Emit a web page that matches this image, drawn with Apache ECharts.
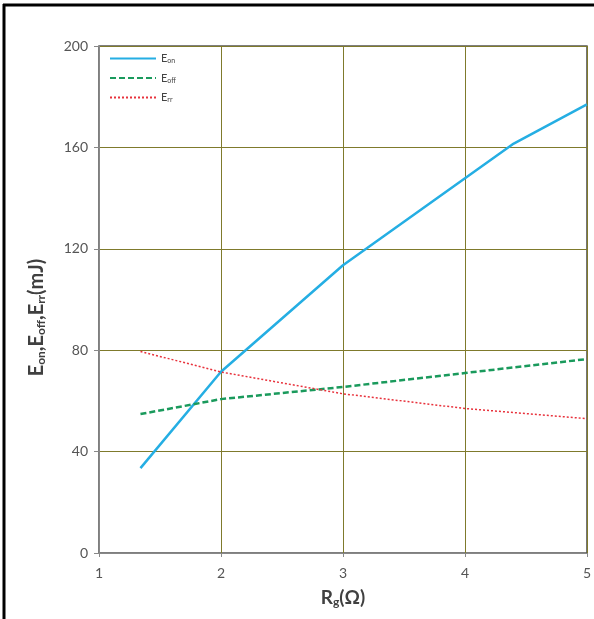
<!DOCTYPE html>
<html><head><meta charset="utf-8">
<script src="https://cdn.jsdelivr.net/npm/echarts@6/dist/echarts.min.js"></script>
<style>html,body{margin:0;padding:0;background:#fff}#c{width:594px;height:619px}</style>
</head><body><div id="c"></div>
<script>
const rgEon = [1.34, 2, 3, 4.4, 5];
const eon = [33.5, 71.5, 113.5, 161.5, 177];
const rgEoff = [1.34, 2, 3, 4, 5];
const eoff = [54.8, 60.7, 65.5, 71, 76.5];
const rgErr = [1.34, 2, 3, 4, 5];
const err = [79.5, 71.4, 62.8, 57, 53];
const yTicks = [0, 40, 80, 120, 160, 200];
const xTicks = [1, 2, 3, 4, 5];
const seriesNames = ['Eon', 'Eoff', 'Err'];

const pair = (xs, ys) => xs.map((x, i) => [x, ys[i]]);
const font = "Lato, 'Open Sans', 'DejaVu Sans', sans-serif";
const gridCol = '#7f7a2c';

const chart = echarts.init(document.getElementById('c'));
chart.setOption({
  animation: false,
  backgroundColor: '#fff',
  grid: {left: 99, right: 5, top: 46, bottom: 66, show: true, borderColor: '#555', borderWidth: 1.5, backgroundColor: 'transparent'},
  xAxis: {
    type: 'value', min: xTicks[0], max: xTicks[xTicks.length - 1], interval: 1,
    axisLine: {show: true, onZero: false, lineStyle: {color: '#888', width: 1}},
    axisTick: {show: true, length: 4, lineStyle: {color: '#888'}},
    splitLine: {show: true, lineStyle: {color: gridCol, width: 1}},
    axisLabel: {margin: 13, fontSize: 14, color: '#555', fontFamily: font},
    name: '{b|R}{s|g}{b|(Ω)}', nameLocation: 'middle', nameGap: 35,
    nameTextStyle: {rich: {
      b: {fontSize: 19, fontWeight: 'bold', color: '#404040', fontFamily: font},
      s: {fontSize: 12, fontWeight: 'bold', color: '#404040', fontFamily: font, padding: [8, 0, 0, 0]}
    }}
  },
  yAxis: {
    type: 'value', min: yTicks[0], max: yTicks[yTicks.length - 1], interval: 40,
    axisLine: {show: true, lineStyle: {color: '#888', width: 1}},
    axisTick: {show: true, length: 5, lineStyle: {color: '#888'}},
    splitLine: {show: true, lineStyle: {color: gridCol, width: 1}},
    axisLabel: {margin: 11, fontSize: 14, color: '#555', fontFamily: font},
    name: '{b|E}{s|on}{b|,E}{s|off}{b|,E}{s|rr}{b|(mJ)}', nameLocation: 'middle', nameGap: 52,
    nameTextStyle: {padding: [0, 36, 0, 0], rich: {
      b: {fontSize: 20, fontWeight: 'bold', color: '#404040', fontFamily: font},
      s: {fontSize: 12, fontWeight: 'bold', color: '#404040', fontFamily: font, padding: [9, 0, 0, 0]}
    }}
  },
  legend: {
    orient: 'vertical', left: 104, top: 48, itemWidth: 46, itemHeight: 10, itemGap: 8,
    data: seriesNames,
    itemStyle: {opacity: 0},
    formatter: n => '{b|E}{s|' + n.slice(1) + '}',
    textStyle: {rich: {
      b: {fontSize: 11, color: '#444', fontFamily: font},
      s: {fontSize: 7, color: '#444', fontFamily: font, padding: [5, 0, 0, 0]}
    }}
  },
  series: [
    {name: seriesNames[0], type: 'line', data: pair(rgEon, eon), showSymbol: false, symbol: 'none',
     lineStyle: {color: '#25aee3', width: 2.5}, itemStyle: {color: '#25aee3'}},
    {name: seriesNames[1], type: 'line', data: pair(rgEoff, eoff), showSymbol: false, symbol: 'none',
     lineStyle: {color: '#1a9a5c', width: 2.5, type: [6, 3]}, itemStyle: {color: '#1a9a5c'}},
    {name: seriesNames[2], type: 'line', data: pair(rgErr, err), showSymbol: false, symbol: 'none',
     lineStyle: {color: '#e8323c', width: 1.5, type: [2, 2]}, itemStyle: {color: '#e8323c'}}
  ],
  graphic: [
    {type: 'line', shape: {x1: 3, y1: 5, x2: 594, y2: 5}, style: {stroke: '#000', lineWidth: 3}},
    {type: 'line', shape: {x1: 4, y1: 4, x2: 4, y2: 619}, style: {stroke: '#000', lineWidth: 3}}
  ]
});
</script></body></html>
